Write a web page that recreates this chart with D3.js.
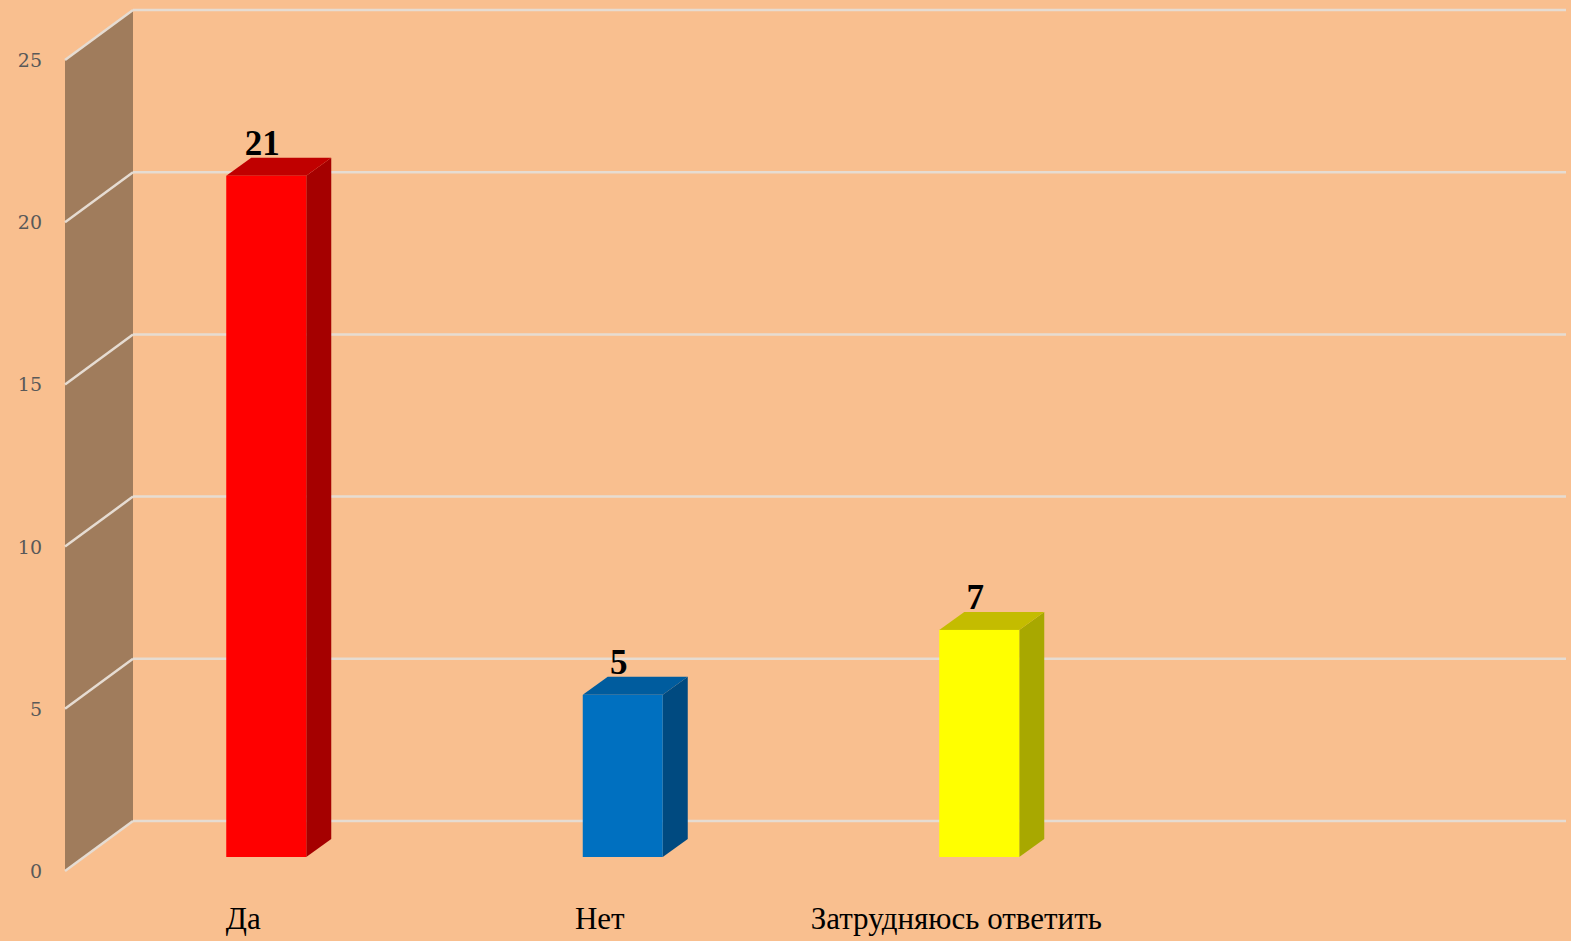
<!DOCTYPE html>
<html>
<head>
<meta charset="utf-8">
<script src="https://cdn.jsdelivr.net/npm/d3@7"></script>
<style>
  html, body { margin: 0; padding: 0; background: #F9BF8F; }
  svg { display: block; }
</style>
</head>
<body>
<div id="viz"></div>
<script>
// data
const categories = ['Да', 'Нет', 'Затрудняюсь ответить'];
const values = [21, 5, 7];
const yTicks = [0, 5, 10, 15, 20, 25];
const frontColors = ['#FF0000', '#0070C0', '#FFFF00'];
const sideColors = ['#A50000', '#004A80', '#A8A800'];
const topColors = ['#C00000', '#005C9E', '#C4BC00'];

const width = 1571;
const height = 941;

// depth offset of the side wall (front edge -> back edge)
const wallDx = 68, wallDy = -50;
const wallBackX = 133;
// bar depth
const barDx = 25, barDy = -18;
const barFrontShift = 36; // bar front plane is this much lower than back wall

const svg = d3.select('#viz').append('svg')
  .attr('width', width)
  .attr('height', height);

svg.append('rect').attr('width', width).attr('height', height).attr('fill', '#F9BF8F');

// y scale on the back wall
const y = d3.scaleLinear().domain([0, 25]).range([821, 10]);

const x = d3.scaleBand()
  .domain(categories)
  .range([88, 1157.5])
  .padding(0);

const barW = 80;

// left wall
const wall = d3.path();
wall.moveTo(wallBackX + 0, y(25));
wall.lineTo(wallBackX, y(0));
wall.lineTo(wallBackX - wallDx, y(0) - wallDy);
wall.lineTo(wallBackX - wallDx, y(25) - wallDy);
wall.closePath();
svg.append('path').attr('d', wall.toString()).attr('fill', '#A07C5C');

// gridlines on back wall
svg.selectAll('.grid')
  .data(yTicks)
  .join('line')
  .attr('class', 'grid')
  .attr('x1', wallBackX)
  .attr('x2', 1566)
  .attr('y1', d => y(d))
  .attr('y2', d => y(d))
  .style('stroke', '#E6DCD2')
  .style('stroke-width', 2.5);

// gridlines on side wall
svg.selectAll('.sgrid')
  .data(yTicks)
  .join('line')
  .attr('class', 'sgrid')
  .attr('x1', wallBackX)
  .attr('x2', wallBackX - wallDx)
  .attr('y1', d => y(d))
  .attr('y2', d => y(d) - wallDy)
  .style('stroke', '#E6DCD2')
  .style('stroke-width', 2.5);

// y labels
svg.selectAll('.ylab')
  .data(yTicks)
  .join('text')
  .attr('class', 'ylab')
  .attr('x', 42)
  .attr('y', d => y(d) - wallDy + 7)
  .attr('text-anchor', 'end')
  .style('font-family', '"DejaVu Serif", "Liberation Serif", serif')
  .style('font-size', '19px')
  .style('fill', '#595959')
  .text(d => d);

// bars
const bars = svg.selectAll('.bar')
  .data(values)
  .join('g')
  .attr('class', 'bar');

const bx = (d, i) => x(categories[i]) + x.bandwidth() / 2 - barW / 2;
const yb = v => y(v) + barFrontShift;

// side face
bars.append('path')
  .attr('d', (d, i) => {
    const x0 = bx(d, i) + barW;
    return `M${x0},${yb(d)} L${x0 + barDx},${yb(d) + barDy} L${x0 + barDx},${yb(0) + barDy} L${x0},${yb(0)} Z`;
  })
  .attr('fill', (d, i) => sideColors[i]);

// top face
bars.append('path')
  .attr('d', (d, i) => {
    const x0 = bx(d, i);
    return `M${x0},${yb(d)} L${x0 + barDx},${yb(d) + barDy} L${x0 + barW + barDx},${yb(d) + barDy} L${x0 + barW},${yb(d)} Z`;
  })
  .attr('fill', (d, i) => topColors[i]);

// front face
bars.append('rect')
  .attr('x', bx)
  .attr('y', d => yb(d))
  .attr('width', barW)
  .attr('height', d => yb(0) - yb(d))
  .attr('fill', (d, i) => frontColors[i]);

// value labels
bars.append('text')
  .attr('x', (d, i) => bx(d, i) + barW / 2 - 4)
  .attr('y', d => yb(d) + barDy - 3)
  .attr('text-anchor', 'middle')
  .style('font-family', '"Liberation Serif", "DejaVu Serif", serif')
  .style('font-weight', 'bold')
  .style('font-size', '35px')
  .style('fill', '#000')
  .text(d => d);

// category labels
svg.selectAll('.xlab')
  .data(categories)
  .join('text')
  .attr('class', 'xlab')
  .attr('x', d => x(d) + x.bandwidth() / 2 - 23)
  .attr('y', 929)
  .attr('text-anchor', 'middle')
  .style('font-family', '"Liberation Serif", "DejaVu Serif", serif')
  .style('font-size', '31px')
  .style('fill', '#000')
  .text(d => d);
</script>
</body>
</html>
